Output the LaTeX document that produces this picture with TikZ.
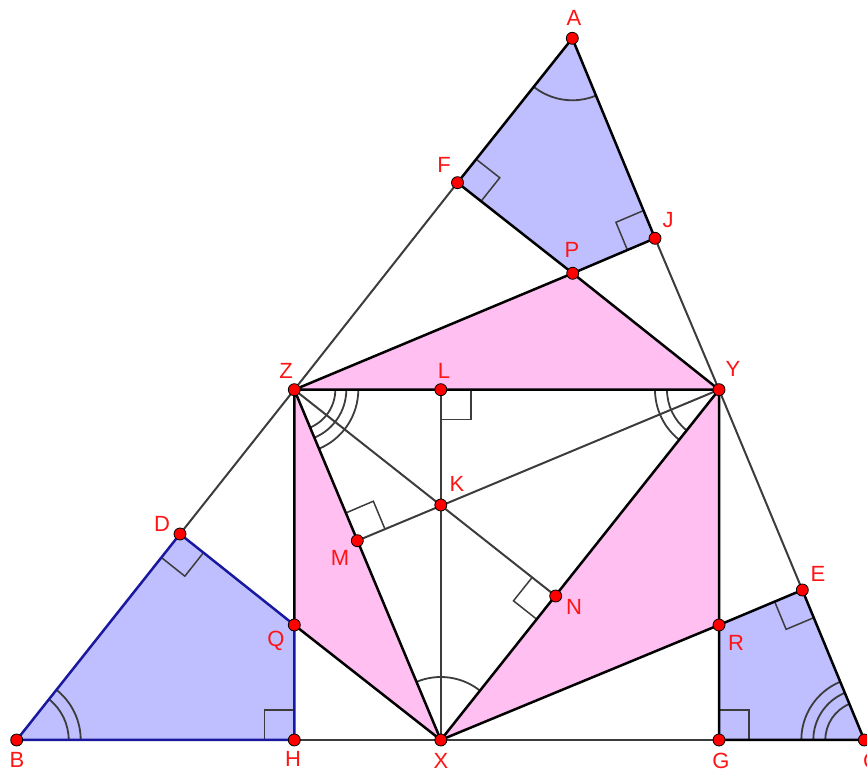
\documentclass[tikz,border=0pt]{standalone}
\usepackage{fontspec}
\setmainfont{Liberation Sans}
\usetikzlibrary{angles,calc}
\definecolor{bluefill}{RGB}{191,191,255}
\definecolor{pinkfill}{RGB}{255,191,240}
\definecolor{darkblue}{RGB}{25,25,160}
\definecolor{ptred}{RGB}{255,0,0}
\definecolor{lblred}{RGB}{255,20,20}
\definecolor{linegray}{RGB}{60,60,60}
\tikzset{
  edge/.style={black,line width=2.5pt,line join=round},
  thin line/.style={linegray,line width=2pt},
  blueedge/.style={darkblue,line width=2.5pt,line join=round},
  ra/.style={draw=linegray,line width=1.5pt,angle radius=30pt},
  arcm/.style={draw=linegray,line width=1.8pt},
  pt/.style={circle,fill=ptred,draw=black,line width=0.8pt,inner sep=0pt,minimum size=12pt},
  lbl/.style={text=lblred,font=\fontsize{22}{26}\selectfont,inner sep=0pt}
}
\begin{document}
\begin{tikzpicture}[x=1pt,y=1pt]
\useasboundingbox (0,0) rectangle (867,773);
% coordinates
\coordinate (A) at (572.3,734.7);
\coordinate (B) at (16.7,33);
\coordinate (C) at (864.3,33);
\coordinate (F) at (457.5,590.3);
\coordinate (J) at (655,534.7);
\coordinate (P) at (572.7,499.7);
\coordinate (Z) at (294.3,383.3);
\coordinate (L) at (440.8,383.3);
\coordinate (Y) at (719,383.3);
\coordinate (K) at (440.8,268);
\coordinate (M) at (357.3,232.3);
\coordinate (N) at (555.7,177);
\coordinate (D) at (180,239);
\coordinate (Q) at (294.3,148);
\coordinate (R) at (719,148);
\coordinate (E) at (802.3,183);
\coordinate (H) at (294.3,33);
\coordinate (X) at (440.8,33);
\coordinate (G) at (719,33);
% fills
\fill[bluefill] (A) -- (F) -- (P) -- (J) -- cycle;
\fill[bluefill] (B) -- (D) -- (Q) -- (H) -- cycle;
\fill[bluefill] (C) -- (E) -- (R) -- (G) -- cycle;
\fill[pinkfill] (Z) -- (P) -- (Y) -- cycle;
\fill[pinkfill] (Z) -- (X) -- (Q) -- cycle;
\fill[pinkfill] (Y) -- (X) -- (R) -- cycle;
% thin lines
\draw[thin line] (F) -- (Z) -- (D);
\draw[thin line] (J) -- (Y) -- (E);
\draw[thin line] (H) -- (G);
\draw[thin line] (L) -- (X);
\draw[thin line] (Z) -- (N);
\draw[thin line] (M) -- (Y);
% right angle marks
\pic[ra] {right angle=A--F--P};
\pic[ra] {right angle=P--J--A};
\pic[ra] {right angle=Y--L--K};
\pic[ra] {right angle=Z--M--K};
\pic[ra] {right angle=K--N--X};
\pic[ra] {right angle=B--D--Q};
\pic[ra] {right angle=Q--H--B};
\pic[ra] {right angle=R--E--C};
\pic[ra] {right angle=C--G--R};
% angle arcs
\pic[arcm,angle radius=62pt] {angle=B--A--C};
\pic[arcm,angle radius=52pt] {angle=C--B--A};
\pic[arcm,angle radius=64pt] {angle=C--B--A};
\pic[arcm,angle radius=39pt] {angle=A--C--B};
\pic[arcm,angle radius=51pt] {angle=A--C--B};
\pic[arcm,angle radius=63pt] {angle=A--C--B};
\pic[arcm,angle radius=63pt] {angle=N--X--M};
\pic[arcm,angle radius=41pt] {angle=X--Z--Y};
\pic[arcm,angle radius=52pt] {angle=X--Z--Y};
\pic[arcm,angle radius=64pt] {angle=X--Z--Y};
\pic[arcm,angle radius=52pt] {angle=Z--Y--X};
\pic[arcm,angle radius=64pt] {angle=Z--Y--X};
% polygon edges
\draw[edge] (A) -- (F) -- (P) -- (J) -- cycle;
\draw[edge] (C) -- (E) -- (R) -- (G) -- cycle;
\draw[edge] (Z) -- (P) -- (Y) -- cycle;
\draw[edge] (Z) -- (X) -- (Q) -- cycle;
\draw[edge] (Y) -- (X) -- (R) -- cycle;
\draw[blueedge] (B) -- (D) -- (Q) -- (H) -- cycle;
% points
\foreach \p in {A,B,C,F,J,P,Z,L,Y,K,M,N,D,Q,R,E,H,X,G}
  \node[pt] (p\p) at (\p) {};
% labels
\node[lbl] (lA) at (574,755) {A};
\node[lbl] (lF) at (444,608) {F};
\node[lbl] (lJ) at (668,552.5) {J};
\node[lbl] (lP) at (572,523) {P};
\node[lbl] (lZ) at (286,402) {Z};
\node[lbl] (lL) at (444,402) {L};
\node[lbl] (lY) at (733,404) {Y};
\node[lbl] (lK) at (457,289) {K};
\node[lbl] (lM) at (340,215) {M};
\node[lbl] (lN) at (574,166) {N};
\node[lbl] (lD) at (162,249) {D};
\node[lbl] (lQ) at (276,132) {Q};
\node[lbl] (lR) at (736,130) {R};
\node[lbl] (lE) at (818,199) {E};
\node[lbl] (lB) at (17,13) {B};
\node[lbl] (lH) at (293,14) {H};
\node[lbl] (lX) at (441,12.5) {X};
\node[lbl] (lG) at (721,12.5) {G};
\node[lbl] (lC) at (871,12) {C};
\end{tikzpicture}
\end{document}
